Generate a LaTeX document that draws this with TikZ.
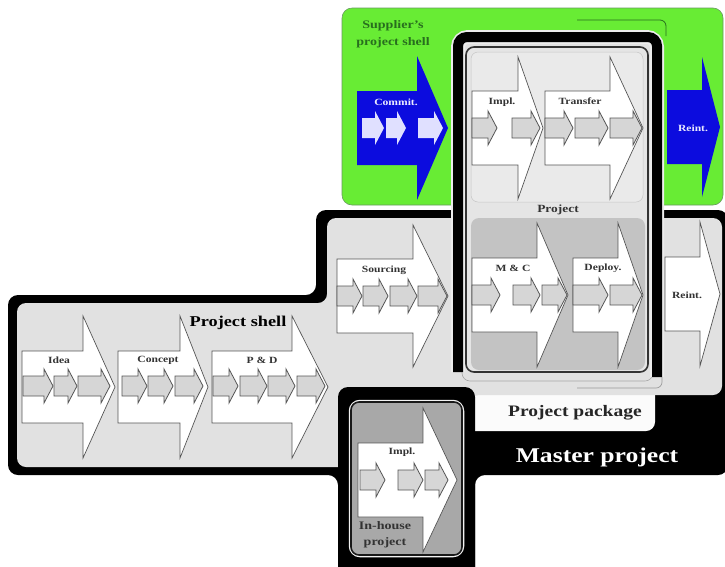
\documentclass[tikz,border=0pt]{standalone}
\usepackage{fontspec}
\setmainfont{Liberation Serif}[FakeStretch=1.22]
\definecolor{suppgreen}{RGB}{104,236,52}
\definecolor{suppdark}{RGB}{40,110,30}
\definecolor{shellgray}{HTML}{E1E1E1}
\definecolor{boxlight}{HTML}{EAEAEA}
\definecolor{boxdark}{HTML}{C3C3C3}
\definecolor{househ}{HTML}{A8A8A8}
\definecolor{bluearr}{RGB}{12,12,222}
\definecolor{lblgray}{HTML}{333333}
\definecolor{smallfill}{HTML}{D6D6D6}
\definecolor{edgegray}{HTML}{555555}
\newcommand{\bigarrow}[7][]{\filldraw[#1] (#2,#5-#6) -- (#3,#5-#6) -- (#3,#5-#7) -- (#4,#5) -- (#3,#5+#7) -- (#3,#5+#6) -- (#2,#5+#6) -- cycle;}
\newcommand{\smallarrow}[4][]{\filldraw[#1] (#2,#4-10) -- (#3-9,#4-10) -- (#3-9,#4-17) -- (#3,#4) -- (#3-9,#4+17) -- (#3-9,#4+10) -- (#2,#4+10) -- cycle;}
\tikzset{
  bigw/.style={fill=white, draw=edgegray, line width=0.7pt},
  smallg/.style={fill=smallfill, draw=edgegray, line width=0.8pt},
  smallb/.style={fill=white!88!blue, draw=none},
  bigb/.style={fill=bluearr, draw=none},
  lbl/.style={font=\fontsize{9.5}{10}\selectfont\bfseries, text=lblgray, inner sep=0pt},
  wlbl/.style={font=\fontsize{9.5}{10}\selectfont\bfseries, text=white!92!blue, inner sep=0pt},
  title/.style={font=\bfseries, inner sep=0pt, align=center}
}
\begin{document}
\begin{tikzpicture}[x=1pt,y=-1pt]
\useasboundingbox (0,0) rectangle (725,566);
\clip (0,0) rectangle (725,566);
\fill[white] (0,0) rectangle (725,566);

% supplier's project shell
\filldraw[fill=suppgreen, draw=suppdark!70, line width=0.6pt, rounded corners=10pt] (342,8) rectangle (723,205);
\draw[suppdark, line width=0.8pt, rounded corners=6pt] (577,20) -- (666,20) -- (666,36);

% master project (black)
\fill[black, rounded corners=10pt] (8,295) -- (316,295) -- (316,210) -- (728,210) -- (728,475) -- (475,475) -- (475,580) -- (338,580) -- (338,475) -- (8,475) -- cycle;

% project package label
\fill[white!97!gray, rounded corners=9pt] (465,375) rectangle (655,431);

% project shell (light gray)
\fill[shellgray, rounded corners=9pt] (17,303) -- (327,303) -- (327,218) -- (722,218) -- (722,395) -- (470,395) -- (470,467) -- (17,467) -- cycle;

% central frame interior and frame
\fill[shellgray] (460,40) rectangle (655,386);
\draw[gray!70, line width=0.6pt, rounded corners=8pt] (462,41) rectangle (653,381);
\draw[gray!80, line width=0.7pt, rounded corners=6pt] (577,388) -- (662,388) -- (662,370);
\draw[white!85!gray, line width=14pt, rounded corners=10pt] (458,372) -- (458,37) -- (657,37) -- (657,377);
\draw[black, line width=10pt, rounded corners=9pt] (458,372) -- (458,37) -- (657,37) -- (657,377);

% project box
\fill[boxlight!95!gray, rounded corners=8pt] (466,47) rectangle (648,372);
\filldraw[fill=boxlight, draw=gray!45, line width=0.5pt, rounded corners=7pt] (471,52) rectangle (643,202);
\fill[boxdark, rounded corners=8pt] (471,218) rectangle (645,370);
\draw[black!80, line width=1.6pt, rounded corners=8pt] (466,47) rectangle (648,372);

% in-house project
\fill[black, rounded corners=10pt] (338,387) rectangle (475,590);
\draw[white!90!gray, line width=4.5pt, rounded corners=9pt] (351,402) rectangle (462,555);
\filldraw[fill=househ, draw=black!90, line width=1.6pt, rounded corners=8pt] (351,402) rectangle (462,555);

% big arrows
\bigarrow[bigw]{22}{83}{115}{387}{36}{71}
\bigarrow[bigw]{118}{180}{208}{387}{36}{71}
\bigarrow[bigw]{212}{292}{328}{387}{36}{71}
\bigarrow[bigw]{337}{413}{448}{296}{37}{71}
\bigarrow[bigw]{472}{537}{568}{295}{37}{72}
\bigarrow[bigw]{573}{618}{643}{295}{37}{72}
\bigarrow[bigw]{665}{700}{720}{294}{37}{72}
\bigarrow[bigw]{472}{518}{543}{128}{37}{71}
\bigarrow[bigw]{545}{610}{643}{128}{37}{71}
\bigarrow[bigb]{357}{417}{448}{128}{37}{72}
\bigarrow[bigb]{667}{702}{720}{127}{37}{70}
\bigarrow[bigw]{358}{423}{457}{480}{37}{72}

% small arrows
\smallarrow[smallg]{23}{53}{386}
\smallarrow[smallg]{54}{77}{386}
\smallarrow[smallg]{78}{110}{386}
\smallarrow[smallg]{122}{147}{386}
\smallarrow[smallg]{148}{173}{386}
\smallarrow[smallg]{175}{203}{386}
\smallarrow[smallg]{213}{238}{386}
\smallarrow[smallg]{240}{267}{386}
\smallarrow[smallg]{268}{295}{386}
\smallarrow[smallg]{297}{325}{386}
\smallarrow[smallg]{337}{362}{296}
\smallarrow[smallg]{363}{388}{296}
\smallarrow[smallg]{390}{417}{296}
\smallarrow[smallg]{418}{447}{296}
\smallarrow[smallg]{472}{500}{295}
\smallarrow[smallg]{513}{540}{295}
\smallarrow[smallg]{542}{567}{295}
\smallarrow[smallg]{573}{608}{295}
\smallarrow[smallg]{610}{642}{295}
\smallarrow[smallg]{472}{497}{128}
\smallarrow[smallg]{512}{540}{128}
\smallarrow[smallg]{545}{573}{128}
\smallarrow[smallg]{575}{608}{128}
\smallarrow[smallg]{610}{642}{128}
\smallarrow[smallb]{362}{384}{128}
\smallarrow[smallb]{386}{406}{128}
\smallarrow[smallb]{418}{443}{128}
\smallarrow[smallg]{360}{385}{480}
\smallarrow[smallg]{398}{423}{480}
\smallarrow[smallg]{425}{448}{480}

% labels
\node[lbl] (idea) at (59,360) {Idea};
\node[lbl] (concept) at (158,360) {Concept};
\node[lbl] (pd) at (262,360) {P \& D};
\node[lbl] (sourcing) at (384,270) {Sourcing};
\node[lbl] (mc) at (513,268) {M \& C};
\node[lbl] (deploy) at (603,268) {Deploy.};
\node[lbl] (reintg) at (687,295) {Reint.};
\node[lbl] (implt) at (502,102) {Impl.};
\node[lbl] (transfer) at (580,101) {Transfer};
\node[wlbl] (commit) at (396,102) {Commit.};
\node[wlbl] (reintb) at (693,128) {Reint.};
\node[lbl] (impli) at (402,452) {Impl.};
\node[title, text=black, font=\fontsize{15}{16}\selectfont\bfseries] (pshell) at (238,323) {Project shell};
\node[title, text=lblgray, font=\fontsize{11}{12}\selectfont\bfseries] (project) at (558,210) {Project};
\node[title, text=suppdark, font=\fontsize{11.5}{17}\selectfont\bfseries] (supp) at (393,34) {Supplier's\\project shell};
\node[title, text=lblgray, font=\fontsize{11.5}{16}\selectfont\bfseries] (inhouse) at (385,535) {In-house\\project};
\node[title, text=black!85, font=\fontsize{16}{17}\selectfont\bfseries] (ppackage) at (575,413) {Project package};
\node[title, text=white, font=\fontsize{21}{22}\selectfont\bfseries] (master) at (597,457) {Master project};
\end{tikzpicture}
\end{document}
